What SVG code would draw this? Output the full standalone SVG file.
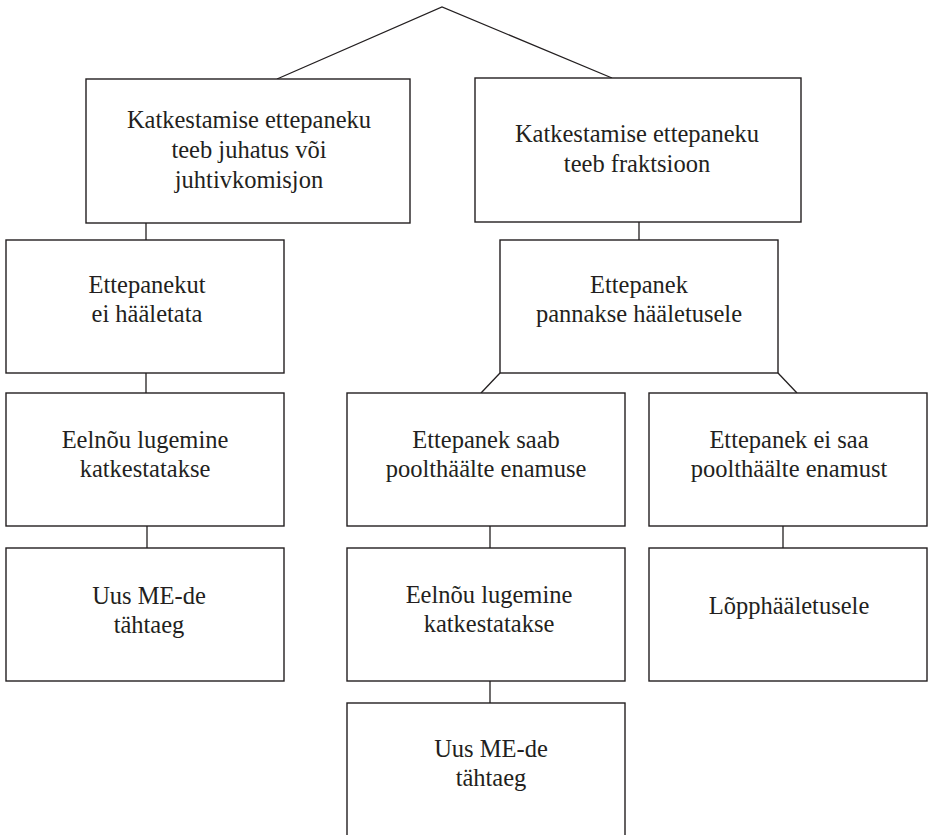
<svg xmlns="http://www.w3.org/2000/svg" width="929" height="835" viewBox="0 0 929 835">
<style>
.box{fill:#fff;stroke:#231f20;stroke-width:1.4}
.ln{fill:none;stroke:#231f20;stroke-width:1.3}
.t text{font-size:24.5px;fill:#231f20;text-anchor:middle}
</style>
<rect width="929" height="835" fill="#fff"/>
<g id="connectors">
<polyline class="ln" points="277,79 442,7 612,78"/>
<line class="ln" x1="146" y1="223" x2="146" y2="240"/>
<line class="ln" x1="146" y1="373" x2="146" y2="393"/>
<line class="ln" x1="147" y1="526" x2="147" y2="548"/>
<line class="ln" x1="639" y1="222" x2="639" y2="240"/>
<line class="ln" x1="500" y1="373" x2="481" y2="393"/>
<line class="ln" x1="778" y1="373" x2="797" y2="393"/>
<line class="ln" x1="490" y1="526" x2="490" y2="548"/>
<line class="ln" x1="783" y1="526" x2="783" y2="548"/>
<line class="ln" x1="490" y1="681" x2="490" y2="703"/>
</g>
<g class="t" font-family="'Liberation Serif', 'DejaVu Serif', 'Times New Roman', serif">
<g id="nodeA">
<rect class="box" x="86" y="79" width="324" height="144"/>
<text x="249" y="128">Katkestamise ettepaneku</text>
<text x="249" y="158">teeb juhatus või</text>
<text x="249" y="188">juhtivkomisjon</text>
</g>
<g id="nodeB">
<rect class="box" x="475" y="78" width="326" height="144"/>
<text x="637" y="142">Katkestamise ettepaneku</text>
<text x="637" y="172">teeb fraktsioon</text>
</g>
<g id="nodeC">
<rect class="box" x="6" y="240" width="278" height="133"/>
<text x="147" y="293">Ettepanekut</text>
<text x="147" y="322">ei hääletata</text>
</g>
<g id="nodeD">
<rect class="box" x="500" y="240" width="278" height="133"/>
<text x="639" y="293">Ettepanek</text>
<text x="639" y="322">pannakse hääletusele</text>
</g>
<g id="nodeE">
<rect class="box" x="6" y="393" width="278" height="133"/>
<text x="145" y="448">Eelnõu lugemine</text>
<text x="145" y="477">katkestatakse</text>
</g>
<g id="nodeF">
<rect class="box" x="347" y="393" width="278" height="133"/>
<text x="486" y="448">Ettepanek saab</text>
<text x="486" y="477">poolthäälte enamuse</text>
</g>
<g id="nodeH">
<rect class="box" x="649" y="393" width="278" height="133"/>
<text x="789" y="448">Ettepanek ei saa</text>
<text x="789" y="477">poolthäälte enamust</text>
</g>
<g id="nodeG">
<rect class="box" x="6" y="548" width="278" height="133"/>
<text x="149" y="604">Uus ME-de</text>
<text x="149" y="633">tähtaeg</text>
</g>
<g id="nodeI">
<rect class="box" x="347" y="548" width="278" height="133"/>
<text x="489" y="603">Eelnõu lugemine</text>
<text x="489" y="632">katkestatakse</text>
</g>
<g id="nodeJ">
<rect class="box" x="649" y="548" width="278" height="133"/>
<text x="789" y="614">Lõpphääletusele</text>
</g>
<g id="nodeK">
<rect class="box" x="347" y="703" width="278" height="140"/>
<text x="491" y="757">Uus ME-de</text>
<text x="491" y="786">tähtaeg</text>
</g>
</g>
</svg>
